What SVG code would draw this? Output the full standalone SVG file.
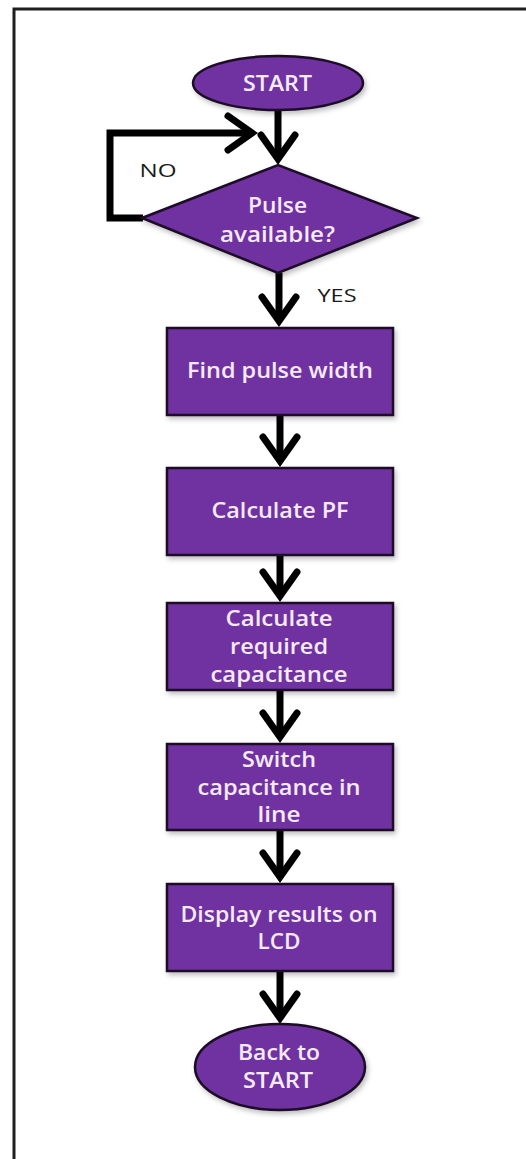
<svg xmlns="http://www.w3.org/2000/svg" width="526" height="1159" viewBox="0 0 526 1159">
<style>
.shape{fill:#7030A0;stroke:#1c0c26;stroke-width:2.5;filter:url(#sh)}
.t{font-family:"Open Sans","DejaVu Sans","Liberation Sans",sans-serif;font-size:21px;font-weight:600;fill:#F4EAFA;text-anchor:middle}
.lbl{font-family:"Open Sans","DejaVu Sans","Liberation Sans",sans-serif;font-size:18px;fill:#1a1a1a;text-anchor:middle}
.c{fill:none;stroke:#000;stroke-width:7;marker-end:url(#chev)}
</style>
<defs>
<filter id="sh" x="-20%" y="-20%" width="140%" height="150%">
<feDropShadow dx="2" dy="3" stdDeviation="2.5" flood-color="#000" flood-opacity="0.25"/>
</filter>
<marker id="chev" markerUnits="userSpaceOnUse" orient="auto" refX="0" refY="0" markerWidth="40" markerHeight="40" viewBox="-30 -20 40 40" overflow="visible">
<path d="M-24,-17 L0,0 L-24,17" fill="none" stroke="#000" stroke-width="7" stroke-linejoin="miter" stroke-linecap="round"/>
</marker>
</defs>
<rect width="526" height="1159" fill="#fff"/>
<path d="M14,1159 V9 H526" fill="none" stroke="#1e1e1e" stroke-width="3"/>

<g id="connectors">
<path class="c" d="M278,110 V159"/>
<path class="c" d="M143,218 H110 V133 H252"/>
<path class="c" d="M279,273 V321"/>
<path class="c" d="M280,415 V461"/>
<path class="c" d="M280,555 V596"/>
<path class="c" d="M280,690 V737"/>
<path class="c" d="M280,830 V877"/>
<path class="c" d="M280,971 V1018"/>
</g>

<g id="label-no"><text class="lbl" x="158" y="177" textLength="37" lengthAdjust="spacingAndGlyphs">NO</text></g>
<g id="label-yes"><text class="lbl" x="337" y="302" textLength="39" lengthAdjust="spacingAndGlyphs">YES</text></g>

<g id="start">
<ellipse class="shape" cx="278" cy="83" rx="85" ry="27"/>
<text class="t" x="277.5" y="91" textLength="69" lengthAdjust="spacingAndGlyphs">START</text>
</g>

<g id="decision">
<polygon class="shape" points="142,218 278,165 417,218 278,273"/>
<text class="t" x="277.5" y="213" textLength="59" lengthAdjust="spacingAndGlyphs">Pulse</text>
<text class="t" x="277.5" y="242" textLength="115" lengthAdjust="spacingAndGlyphs">available?</text>
</g>

<g id="find-pulse-width">
<rect class="shape" x="167" y="328" width="226" height="87"/>
<text class="t" x="280" y="378" textLength="186" lengthAdjust="spacingAndGlyphs">Find pulse width</text>
</g>

<g id="calculate-pf">
<rect class="shape" x="167" y="468" width="226" height="87"/>
<text class="t" x="280" y="518" textLength="137" lengthAdjust="spacingAndGlyphs">Calculate PF</text>
</g>

<g id="calculate-capacitance">
<rect class="shape" x="167" y="603" width="226" height="87"/>
<text class="t" x="279" y="626" textLength="107" lengthAdjust="spacingAndGlyphs">Calculate</text>
<text class="t" x="279" y="654" textLength="98" lengthAdjust="spacingAndGlyphs">required</text>
<text class="t" x="279" y="682" textLength="137" lengthAdjust="spacingAndGlyphs">capacitance</text>
</g>

<g id="switch-capacitance">
<rect class="shape" x="167" y="744" width="226" height="86"/>
<text class="t" x="279" y="767" textLength="74" lengthAdjust="spacingAndGlyphs">Switch</text>
<text class="t" x="279" y="795" textLength="163" lengthAdjust="spacingAndGlyphs">capacitance in</text>
<text class="t" x="279" y="822" textLength="43" lengthAdjust="spacingAndGlyphs">line</text>
</g>

<g id="display-results">
<rect class="shape" x="167" y="884" width="226" height="87"/>
<text class="t" x="279" y="922" textLength="197" lengthAdjust="spacingAndGlyphs">Display results on</text>
<text class="t" x="279" y="949" textLength="43" lengthAdjust="spacingAndGlyphs">LCD</text>
</g>

<g id="back-to-start">
<ellipse class="shape" cx="280" cy="1067" rx="85" ry="43"/>
<text class="t" x="279" y="1060" textLength="82" lengthAdjust="spacingAndGlyphs">Back to</text>
<text class="t" x="278" y="1088" textLength="70" lengthAdjust="spacingAndGlyphs">START</text>
</g>
</svg>
